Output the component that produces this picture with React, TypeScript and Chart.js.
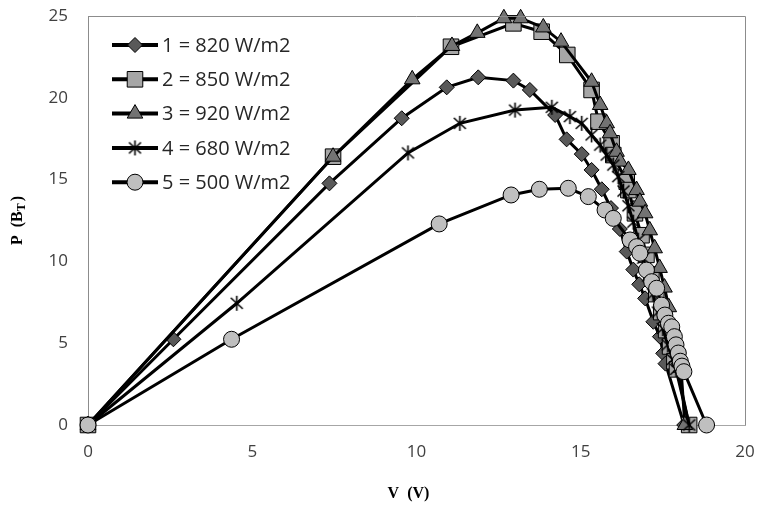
import React, { useEffect, useRef } from 'react';
import { Chart, registerables } from 'chart.js';
import { drawPoint } from 'chart.js/helpers';

Chart.register(...registerables);

const seriesLabels = ['1 = 820 W/m2', '2 = 850 W/m2', '3 = 920 W/m2', '4 = 680 W/m2', '5 = 500 W/m2'];

const xTicks = [0, 5, 10, 15, 20];
const yTicks = [0, 5, 10, 15, 20, 25];

const s1V = [0, 2.6, 7.35, 9.55, 10.92, 11.88, 12.95, 13.45, 14.22, 14.57, 15.03, 15.33, 15.64, 15.92, 16.19, 16.4, 16.6, 16.78, 16.96, 17.21, 17.41, 17.51, 17.58, 18.15];
const s1P = [0, 5.24, 14.77, 18.75, 20.64, 21.25, 21.05, 20.48, 18.95, 17.46, 16.56, 15.59, 14.41, 13.26, 11.98, 10.6, 9.5, 8.6, 7.74, 6.31, 5.4, 4.38, 3.75, 0];

const s2V = [0, 7.46, 11.05, 12.95, 13.81, 14.59, 15.33, 15.54, 15.94, 15.99, 16.4, 16.45, 16.65, 16.85, 17.0, 17.15, 17.3, 17.45, 17.6, 17.72, 17.85, 17.93, 18.3];
const s2P = [0, 16.4, 23.12, 24.55, 24.04, 22.62, 20.48, 18.54, 17.22, 16.5, 14.87, 14.36, 12.94, 11.6, 10.4, 9.2, 8.0, 6.9, 5.8, 4.8, 3.9, 3.4, 0];

const s3V = [0, 7.46, 9.87, 11.08, 11.85, 12.66, 13.17, 13.86, 14.4, 15.33, 15.59, 15.79, 15.89, 16.09, 16.2, 16.45, 16.7, 16.8, 16.96, 17.1, 17.25, 17.4, 17.55, 17.68, 17.8, 17.9, 18.0, 18.05, 18.17];
const s3P = [0, 16.4, 21.13, 23.17, 23.97, 24.86, 24.86, 24.3, 23.43, 20.98, 19.56, 18.44, 17.83, 16.7, 16.1, 15.59, 14.36, 13.65, 12.94, 11.9, 10.8, 9.6, 8.4, 7.2, 6.0, 5.0, 4.0, 3.5, 0];

const s4V = [0, 4.53, 9.74, 11.32, 13.0, 14.12, 14.67, 15.03, 15.33, 15.59, 15.79, 15.99, 16.14, 16.3, 16.45, 16.6, 16.75, 16.9, 17.05, 17.2, 17.35, 17.5, 17.65, 17.8, 17.9, 18.3];
const s4P = [0, 7.44, 16.63, 18.44, 19.25, 19.42, 18.85, 18.44, 17.73, 17.11, 16.5, 15.89, 15.18, 14.3, 13.4, 12.4, 11.3, 10.2, 9.1, 8.0, 6.9, 5.9, 4.9, 4.0, 3.4, 0];

const s5V = [0, 4.37, 10.69, 12.88, 13.74, 14.62, 15.23, 15.74, 15.99, 16.5, 16.7, 16.8, 17.0, 17.16, 17.31, 17.46, 17.56, 17.67, 17.77, 17.85, 17.9, 17.97, 18.03, 18.08, 18.14, 18.83];
const s5P = [0, 5.24, 12.29, 14.06, 14.41, 14.47, 13.96, 13.14, 12.63, 11.31, 10.9, 10.5, 9.47, 8.76, 8.36, 7.33, 6.72, 6.22, 6.0, 5.4, 4.9, 4.4, 3.9, 3.6, 3.26, 0];

const seriesV = [s1V, s2V, s3V, s4V, s5V];
const seriesP = [s1P, s2P, s3P, s4P, s5P];
const fills = ['#595959', '#a6a6a6', '#737373', '#000000', '#bfbfbf'];
const radii = [7.5, 11, 9, 8, 8];

function makeStar(): HTMLCanvasElement {
  const c = document.createElement('canvas');
  c.width = 17;
  c.height = 17;
  const g = c.getContext('2d')!;
  g.strokeStyle = '#000';
  g.lineWidth = 1.6;
  g.beginPath();
  g.moveTo(8.5, 1);
  g.lineTo(8.5, 16);
  g.moveTo(2.5, 3);
  g.lineTo(14.5, 14);
  g.moveTo(14.5, 3);
  g.lineTo(2.5, 14);
  g.stroke();
  return c;
}

const titlesAndLegend = {
  id: 'titlesAndLegend',
  afterDatasetsDraw(chart: any) {
    const ctx = chart.ctx as CanvasRenderingContext2D;
    const area = chart.chartArea;
    ctx.save();
    // plot frame top/right
    ctx.strokeStyle = '#8c8c8c';
    ctx.lineWidth = 1;
    ctx.beginPath();
    ctx.moveTo(area.left, area.top + 0.5);
    ctx.lineTo(area.right + 0.5, area.top + 0.5);
    ctx.lineTo(area.right + 0.5, area.bottom);
    ctx.stroke();

    // legend
    chart.data.datasets.forEach((ds: any, i: number) => {
      const y = area.top + 29 + i * 34.3;
      const x0 = area.left + 24;
      const x1 = area.left + 70;
      ctx.strokeStyle = '#000';
      ctx.lineWidth = 4;
      ctx.beginPath();
      ctx.moveTo(x0, y);
      ctx.lineTo(x1, y);
      ctx.stroke();
      ctx.fillStyle = ds.pointBackgroundColor;
      ctx.strokeStyle = '#000';
      ctx.lineWidth = 1;
      drawPoint(ctx, { pointStyle: ds.pointStyle, rotation: 0, radius: ds.pointRadius, borderWidth: 1 } as any, (x0 + x1) / 2, y);
      ctx.fillStyle = '#262626';
      ctx.font = '20px "Open Sans"';
      ctx.textBaseline = 'middle';
      ctx.textAlign = 'left';
      ctx.fillText(ds.label, x1 + 4, y + 1);
    });

    // x title
    ctx.fillStyle = '#000';
    ctx.font = 'bold 16px "Liberation Serif"';
    ctx.textAlign = 'center';
    ctx.textBaseline = 'middle';
    ctx.fillText('V  (V)', (area.left + area.right) / 2 - 8, 494);

    // y title with subscript
    ctx.save();
    ctx.translate(18, (area.top + area.bottom) / 2);
    ctx.rotate(-Math.PI / 2);
    const main = 'P  (B';
    const sub = 'T';
    const close = ')';
    ctx.font = 'bold 16px "Liberation Serif"';
    const wMain = ctx.measureText(main).width;
    const wClose = ctx.measureText(close).width;
    ctx.font = 'bold 12px "Liberation Serif"';
    const wSub = ctx.measureText(sub).width;
    const total = wMain + wSub + 2 + wClose;
    let x = -total / 2;
    ctx.textAlign = 'left';
    ctx.textBaseline = 'middle';
    ctx.font = 'bold 16px "Liberation Serif"';
    ctx.fillText(main, x, 0);
    x += wMain;
    ctx.font = 'bold 12px "Liberation Serif"';
    ctx.fillText(sub, x, 4);
    x += wSub + 2;
    ctx.font = 'bold 16px "Liberation Serif"';
    ctx.fillText(close, x, 0);
    ctx.restore();
    ctx.restore();
  },
};

export default function App() {
  const ref = useRef<HTMLCanvasElement | null>(null);
  useEffect(() => {
    if (!ref.current) return;
    const star = makeStar();
    const styles: any[] = ['rectRot', 'rect', 'triangle', star, 'circle'];
    const datasets = seriesLabels.map((label, i) => ({
      label,
      data: seriesV[i].map((v, j) => ({ x: v, y: seriesP[i][j] })),
      borderColor: '#000',
      borderWidth: 3,
      pointStyle: styles[i],
      pointRadius: radii[i],
      pointBackgroundColor: fills[i],
      pointBorderColor: '#000',
      pointBorderWidth: 1,
      showLine: true,
      fill: false,
      tension: 0,
      clip: false as any,
      order: 5 - i,
    }));
    const chart = new Chart(ref.current, {
      type: 'scatter',
      data: { datasets },
      options: {
        animation: false,
        responsive: false,
        devicePixelRatio: 1,
        layout: { padding: { top: 16, right: 16, left: 0, bottom: 0 } },
        plugins: { legend: { display: false }, tooltip: { enabled: false } },
        scales: {
          x: {
            type: 'linear',
            min: 0,
            max: 20,
            afterBuildTicks: (s: any) => { s.ticks = xTicks.map((v) => ({ value: v })); },
            ticks: { font: { family: 'Open Sans', size: 17 }, color: '#404040', padding: 17 },
            grid: { display: false, drawTicks: false },
            border: { display: true, color: '#a6a6a6', width: 1 },
            afterFit: (s: any) => { s.height = 84; s.paddingLeft = 0; s.paddingRight = 0; },
          },
          y: {
            type: 'linear',
            min: 0,
            max: 25,
            afterBuildTicks: (s: any) => { s.ticks = yTicks.map((v) => ({ value: v })); },
            ticks: { font: { family: 'Open Sans', size: 17 }, color: '#404040', padding: 20 },
            grid: { display: false, drawTicks: false },
            border: { display: true, color: '#8c8c8c', width: 1 },
            afterFit: (s: any) => { s.width = 88; s.paddingTop = 0; s.paddingBottom = 0; },
          },
        },
      },
      plugins: [titlesAndLegend],
    });
    return () => chart.destroy();
  }, []);
  return (
    <div style={{ position: 'absolute', left: 0, top: 0, width: 761, height: 509, background: '#fff' }}>
      <canvas ref={ref} width={761} height={509} />
    </div>
  );
}
